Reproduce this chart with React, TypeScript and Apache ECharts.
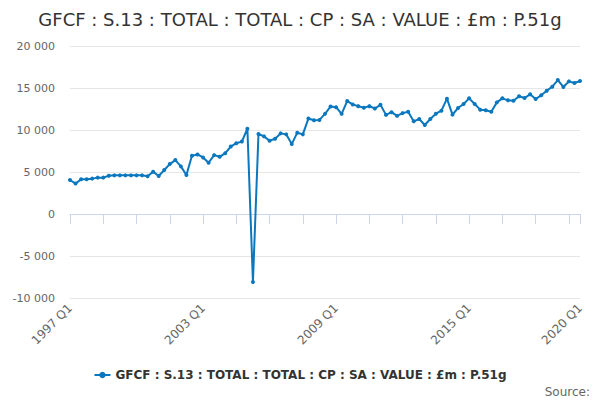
import { useEffect, useRef } from 'react'
import * as echarts from 'echarts'

const seriesName = 'GFCF : S.13 : TOTAL : TOTAL : CP : SA : VALUE : £m : P.51g'

const startYear = 1997
const endYear = 2020
const categories: string[] = []
for (let y = startYear; y <= endYear; y++) {
  for (let q = 1; q <= 4; q++) {
    if (y === endYear && q > 1) break
    categories.push(`${y} Q${q}`)
  }
}

// £m, quarterly, 1997 Q1 .. 2020 Q1
const values = [
  4050, 3620, 4130, 4130, 4210, 4330, 4330, 4550, 4600, 4600, 4600, 4600,
  4600, 4600, 4490, 5040, 4530, 5240, 5940, 6420, 5670, 4650, 6930, 7090,
  6730, 6100, 7010, 6810, 7240, 8030, 8430, 8620, 10150, -8100, 9520, 9240,
  8720, 8960, 9600, 9480, 8320, 9680, 9480, 11360, 11160, 11200, 11920, 12800,
  12720, 11920, 13440, 13040, 12840, 12640, 12840, 12560, 13000, 11800, 12120, 11680,
  12010, 12170, 11030, 11310, 10600, 11310, 11940, 12300, 13730, 11830, 12620, 13100,
  13770, 13100, 12420, 12340, 12180, 13290, 13770, 13530, 13490, 14010, 13810, 14250,
  13690, 14130, 14680, 15160, 15950, 15120, 15790, 15600, 15830,
]

const yMin = -10000
const yMax = 20000
const yStep = 5000

const font = '"DejaVu Sans", sans-serif'
const lineColor = '#0a77be'

const fmt = (v: number) =>
  (v < 0 ? '-' : '') + Math.abs(v).toLocaleString('en-US').replace(/,/g, ' ')

export default function App() {
  const main = useRef<HTMLDivElement>(null)
  useEffect(() => {
    const last = categories.length - 1
    const option = {
      animation: false,
      textStyle: { fontFamily: font },
      title: {
        text: seriesName,
        left: 'center',
        top: 5,
        textStyle: { fontFamily: font, fontSize: 18, fontWeight: 'normal', color: '#333' },
      },
      grid: { left: 70, right: 20, top: 46, bottom: 102, containLabel: false },
      xAxis: {
        type: 'category',
        data: categories,
        boundaryGap: false,
        axisLine: { lineStyle: { color: '#ccd6eb' } },
        axisTick: {
          length: 10,
          lineStyle: { color: '#ccd6eb' },
          interval: (i: number) => i % 6 === 0 || i === last,
        },
        axisLabel: {
          rotate: 45,
          margin: 8,
          color: '#666',
          fontSize: 12,
          fontFamily: font,
          interval: (i: number) => i % 24 === 0 || i === last,
        },
        splitLine: { show: false },
      },
      yAxis: {
        type: 'value',
        min: yMin,
        max: yMax,
        interval: yStep,
        axisLine: { show: false },
        axisTick: { show: false },
        axisLabel: { color: '#666', fontSize: 11, fontFamily: font, margin: 15, formatter: fmt },
        splitLine: { lineStyle: { color: '#e6e6e6' } },
      },
      legend: {
        bottom: 14,
        left: 'center',
        itemWidth: 16,
        itemHeight: 8,
        itemGap: 6,
        textStyle: { fontFamily: font, fontSize: 12, fontWeight: 'bold', color: '#333' },
        data: [seriesName],
      },
      graphic: [
        {
          type: 'text',
          right: 10,
          bottom: 2,
          style: { text: 'Source:', fontFamily: font, fontSize: 12, fill: '#666' },
        },
      ],
      series: [
        {
          name: seriesName,
          type: 'line',
          data: values,
          symbol: 'circle',
          symbolSize: 4,
          showSymbol: true,
          showAllSymbol: true,
          itemStyle: { color: lineColor },
          lineStyle: { color: lineColor, width: 2 },
        },
      ],
    }
    const chart = echarts.init(main.current, null, { renderer: 'svg' })
    chart.setOption(option)
    return () => {
      chart.dispose()
    }
  }, [])
  return (
    <div
      ref={main}
      style={{ position: 'fixed', left: 0, top: 0, width: '600px', height: '400px', background: '#fff' }}
    ></div>
  )
}
